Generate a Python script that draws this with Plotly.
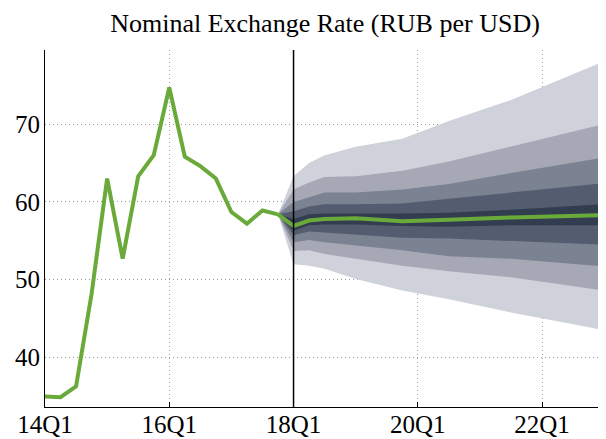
import plotly.graph_objects as go

# Quarter labels (index 0 = 14Q1)
tick_idx = [0, 8, 16, 24, 32]
tick_labels = ["14Q1", "16Q1", "18Q1", "20Q1", "22Q1"]
y_ticks = [40, 50, 60, 70]

# Historical nominal exchange rate, 14Q1..17Q4
hist_x = list(range(16))
hist_y = [35.0, 34.9, 36.3, 48.2, 63.0, 52.7, 63.3, 66.0,
          74.7, 65.8, 64.6, 63.0, 58.7, 57.2, 58.9, 58.4]

# Forecast fan (quarter index positions)
fc_x = [15, 16, 17, 18, 20, 23, 26, 30, 36]
median = [58.4, 56.9, 57.6, 57.8, 57.9, 57.5, 57.7, 58.0, 58.3]
u5 = [58.4, 63.3, 65.0, 66.0, 67.1, 68.1, 70.4, 73.1, 78.1]
u4 = [58.4, 61.6, 62.5, 63.2, 63.3, 64.0, 65.2, 67.1, 70.0]
u3 = [58.4, 60.0, 60.6, 61.2, 61.2, 61.6, 62.3, 63.7, 65.7]
u2 = [58.4, 58.8, 59.4, 59.7, 59.7, 59.8, 60.4, 61.2, 62.4]
u1 = [58.4, 57.8, 58.4, 58.5, 58.5, 58.5, 58.6, 59.0, 59.7]
l1 = [58.4, 56.3, 57.0, 57.1, 57.1, 56.9, 56.8, 57.0, 57.0]
l2 = [58.4, 55.7, 56.2, 56.0, 55.8, 55.4, 55.3, 55.0, 54.5]
l3 = [58.4, 54.8, 55.1, 54.8, 54.4, 53.8, 53.0, 52.7, 51.7]
l4 = [58.4, 53.7, 53.8, 53.3, 52.7, 51.8, 51.1, 50.3, 48.6]
l5 = [58.4, 52.0, 51.8, 51.4, 50.1, 48.6, 47.5, 45.8, 43.5]

band_colors = ["#cfd2db", "#a6a9b5", "#7b8292", "#545d6f", "#333d50"]
bands = [(u5, l5), (u4, l4), (u3, l3), (u2, l2), (u1, l1)]

fig = go.Figure()
for (up, lo), col in zip(bands, band_colors):
    fig.add_trace(go.Scatter(
        x=fc_x + fc_x[::-1], y=up + lo[::-1],
        fill="toself", fillcolor=col, mode="lines",
        line=dict(width=0, color=col), hoverinfo="skip", showlegend=False))

green = "#6aaa3a"
fig.add_trace(go.Scatter(x=hist_x, y=hist_y, mode="lines",
                         line=dict(color=green, width=4), showlegend=False))
fig.add_trace(go.Scatter(x=fc_x, y=median, mode="lines",
                         line=dict(color=green, width=4), showlegend=False))

fig.add_shape(type="line", xref="x", yref="paper", x0=16, x1=16, y0=0, y1=1,
              line=dict(color="black", width=1.5))

# The page body adds an 8px margin, so the figure is sized 8px smaller.
font = "Liberation Serif"
fig.update_layout(
    width=598, height=431,
    margin=dict(l=37, r=1, t=42, b=32),
    plot_bgcolor="white", paper_bgcolor="white",
    font=dict(family=font, size=25, color="black"),
    title=dict(text="Nominal Exchange Rate (RUB per USD)", x=0.5, xref="paper",
               y=1 - 15 / 431, yref="container", yanchor="middle",
               font=dict(family=font, size=26, color="black")),
    showlegend=False,
)
fig.update_xaxes(range=[0, 36.05], tickvals=tick_idx, ticktext=tick_labels,
                 tickfont=dict(family=font, size=25, color="black"),
                 showgrid=True, gridcolor="#9a9a9a", griddash="1px,3px", gridwidth=1,
                 showline=True, linecolor="black", linewidth=1,
                 ticks="inside", ticklen=5, tickcolor="black",
                 ticklabelstandoff=-5,
                 zeroline=False, automargin=False)
fig.update_yaxes(range=[33.64, 79.52], tickvals=y_ticks,
                 tickfont=dict(family=font, size=25, color="black"),
                 showgrid=True, gridcolor="#9a9a9a", griddash="1px,3px", gridwidth=1,
                 showline=True, linecolor="black", linewidth=1,
                 ticks="", ticklabelstandoff=-1,
                 zeroline=False, automargin=False)

fig.write_html("out.html")
